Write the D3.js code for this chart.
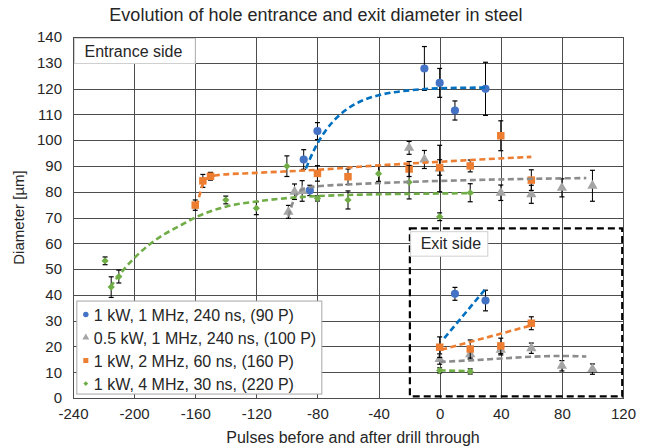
<!DOCTYPE html>
<html>
<head>
<meta charset="utf-8">
<script src="https://cdn.jsdelivr.net/npm/d3@7"></script>
<style>
  body { margin: 0; background: #fff; }
  text { font-family: "Liberation Sans", Arial, sans-serif; fill: #262626; }
</style>
</head>
<body>
<div id="svg-area"></div>
<script>
// chart data
var seriesNames = ["1 kW, 1 MHz, 240 ns, (90 P)", "0.5 kW, 1 MHz, 240 ns, (100 P)",
                   "1 kW, 2 MHz, 60 ns, (160 P)", "1 kW, 4 MHz, 30 ns, (220 P)"];
var xTicks = [-240, -200, -160, -120, -80, -40, 0, 40, 80, 120];
var yTicks = [0, 10, 20, 30, 40, 50, 60, 70, 80, 90, 100, 110, 120, 130, 140];

// entrance side measurements
var blueX = [-89, -85, -80, -10, 0, 10, 30];
var blueY = [92.5, 80.5, 103.5, 127.8, 122.2, 111.5, 119.9];
var blueErr = [3.8, 2, 3.3, 8.5, 5.6, 3.7, 10.3];

var grayX = [-99, -95, -90, -20, -10, 0, 40, 60, 80, 100];
var grayY = [72.2, 80, 80.3, 97, 92.5, 89, 79.6, 79, 81.5, 82.3];
var grayErr = [2.5, 3, 4, 2.5, 3.5, 9, 3, 3.5, 3.5, 6];

var orangeX = [-160, -155, -150, -80, -60, -20, 0, 20, 40, 60];
var orangeY = [74.8, 84.2, 86, 87.1, 85.8, 88.8, 89.4, 90, 101.7, 84.5];
var orangeErr = [2, 2.5, 1.5, 3, 3, 2.9, 3, 2.3, 5.8, 4];

var greenX = [-219, -215, -210, -140, -120, -100, -80, -60, -40, -20, 0, 20];
var greenY = [53.2, 43, 47.1, 76.8, 73.6, 89.9, 77.4, 76.8, 87, 83.7, 70.3, 79.6];
var greenErr = [1.5, 4, 2.5, 1.5, 2.5, 4, 1, 3.5, 3, 6.5, 1.5, 3.5];

// exit side measurements
var blueExitX = [10, 30];
var blueExitY = [40.4, 37.8];
var blueExitErr = [2.5, 4];
var grayExitX = [0, 20, 40, 60, 80, 100];
var grayExitY = [15.1, 17, 18.7, 19.3, 12.5, 11.2];
var grayExitErr = [2, 2, 2, 2, 2, 2];
var orangeExitX = [0, 20, 40, 60];
var orangeExitY = [19.7, 19, 20.2, 29];
var orangeExitErr = [4, 3.5, 3, 2.5];
var greenExitX = [0, 20];
var greenExitY = [10.7, 10.3];
var greenExitErr = [1, 1];

// trend lines
var blueTrendX = [-87.5, -85, -80, -75, -70, -65, -60, -50, -40, -20, 0, 30];
var blueTrendY = [89, 92.6, 98.7, 103.4, 107.1, 110, 112.3, 115.5, 117.4, 119.3, 120.1, 120.4];
var grayTrendX = [-99, -96, -93, -90, -85, -80, -60, -20, 20, 60, 96];
var grayTrendY = [70.3, 76, 79.5, 80.8, 81.7, 82.1, 82.8, 83.8, 84.5, 85, 85.3];
var orangeTrendX = [-159, -157, -155, -152, -146, -120, -80, -40, 0, 30, 60];
var orangeTrendY = [74.2, 79, 83, 85.3, 86.4, 87.3, 88.5, 90.2, 91.6, 92.6, 93.5];
var greenTrendX = [-215.6, -210, -200, -190, -180, -170, -160, -140, -120, -100, -80, -40, 0, 22];
var greenTrendY = [43, 47.5, 54.2, 59.5, 63.6, 66.8, 70, 74.2, 76.2, 77.5, 78.3, 79, 79.3, 79.5];

var blueExitTrendX = [3, 31];
var blueExitTrendY = [23.2, 43];
var grayExitTrendX = [0, 20, 40, 60, 80, 96];
var grayExitTrendY = [14, 14.6, 15.3, 16, 16.3, 16.1];
var orangeExitTrendX = [1, 59];
var orangeExitTrendY = [18.7, 28];
var greenExitTrendX = [0, 20];
var greenExitTrendY = [10.7, 10.4];

var svgWidth = 648;
var svgHeight = 448;
var margin = { top: 37, right: 25, bottom: 50, left: 73 };
var width = svgWidth - margin.left - margin.right;
var height = svgHeight - margin.top - margin.bottom;

var svg = d3.select("#svg-area").append("svg")
  .attr("width", svgWidth)
  .attr("height", svgHeight);

var chartGroup = svg.append("g")
  .attr("transform", `translate(${margin.left}, ${margin.top})`);

var x = d3.scaleLinear().domain([-240, 120]).range([0, width]);
var y = d3.scaleLinear().domain([0, 140]).range([height, 0]);

// grid
var gridColor = "#4d4d4d";
chartGroup.append("g").selectAll("line").data(yTicks).enter().append("line")
  .attr("x1", 0).attr("x2", width)
  .attr("y1", d => Math.round(y(d)) + 0.5).attr("y2", d => Math.round(y(d)) + 0.5)
  .attr("stroke", gridColor).attr("stroke-width", 1);
chartGroup.append("g").selectAll("line").data(xTicks).enter().append("line")
  .attr("y1", 0).attr("y2", height)
  .attr("x1", d => Math.round(x(d)) + 0.5).attr("x2", d => Math.round(x(d)) + 0.5)
  .attr("stroke", gridColor).attr("stroke-width", 1);

// axes (labels only)
var bottomAxis = d3.axisBottom(x).tickValues(xTicks).tickSize(0).tickPadding(10)
  .tickFormat(d => String(d));
var leftAxis = d3.axisLeft(y).tickValues(yTicks).tickSize(0).tickPadding(11)
  .tickFormat(d => String(d));
var gx = chartGroup.append("g").attr("transform", `translate(0, ${height})`).call(bottomAxis);
var gy = chartGroup.append("g").call(leftAxis);
[gx, gy].forEach(function(g) {
  g.select(".domain").remove();
  g.selectAll("text").style("font-size", "15px")
    .style("font-family", "'Liberation Sans', Arial, sans-serif").attr("fill", "#262626");
});

// exit side box
chartGroup.append("rect")
  .attr("x", x(-19.5)).attr("y", y(65.8))
  .attr("width", x(119.5) - x(-19.5)).attr("height", y(0.6) - y(65.8))
  .attr("fill", "none").attr("stroke", "#000").attr("stroke-width", 2.2)
  .attr("stroke-dasharray", "7,4");

var colors = { blue: "#4472C4", gray: "#A5A5A5", orange: "#ED7D31", green: "#70AD47" };
var trendColors = { blue: "#0070C0", gray: "#8C8C8C", orange: "#ED7D31", green: "#70AD47" };

function zip(xs, ys, es) {
  return xs.map((v, i) => ({ x: v, y: ys[i], e: es ? es[i] : 0 }));
}

var series = [
  { key: "blue", shape: d3.symbolCircle, size: 52, pts: zip(blueX, blueY, blueErr).concat(zip(blueExitX, blueExitY, blueExitErr)) },
  { key: "gray", shape: d3.symbolTriangle, size: 46, pts: zip(grayX, grayY, grayErr).concat(zip(grayExitX, grayExitY, grayExitErr)) },
  { key: "orange", shape: d3.symbolSquare, size: 56, pts: zip(orangeX, orangeY, orangeErr).concat(zip(orangeExitX, orangeExitY, orangeExitErr)) },
  { key: "green", shape: d3.symbolSquare, size: 26, rot: 45, pts: zip(greenX, greenY, greenErr).concat(zip(greenExitX, greenExitY, greenExitErr)) }
];

var trends = [
  { key: "blue", lines: [zip(blueTrendX, blueTrendY), zip(blueExitTrendX, blueExitTrendY)] },
  { key: "gray", lines: [zip(grayTrendX, grayTrendY), zip(grayExitTrendX, grayExitTrendY)] },
  { key: "orange", lines: [zip(orangeTrendX, orangeTrendY), zip(orangeExitTrendX, orangeExitTrendY)] },
  { key: "green", lines: [zip(greenTrendX, greenTrendY), zip(greenExitTrendX, greenExitTrendY)] }
];

// error bars and markers
series.forEach(function(s) {
  var g = chartGroup.append("g");
  var eb = g.selectAll(".eb").data(s.pts).enter().append("g");
  eb.append("line")
    .attr("x1", d => x(d.x)).attr("x2", d => x(d.x))
    .attr("y1", d => y(d.y - d.e)).attr("y2", d => y(d.y + d.e))
    .attr("stroke", "#000").attr("stroke-width", 1);
  [-1, 1].forEach(function(sg) {
    eb.append("line")
      .attr("x1", d => x(d.x) - 2.5).attr("x2", d => x(d.x) + 2.5)
      .attr("y1", d => y(d.y + sg * d.e)).attr("y2", d => y(d.y + sg * d.e))
      .attr("stroke", "#000").attr("stroke-width", 1.2);
  });
  g.selectAll("path").data(s.pts).enter().append("path")
    .attr("d", d3.symbol().type(s.shape).size(s.size))
    .attr("transform", d => `translate(${x(d.x)}, ${y(d.y)}) rotate(${s.rot || 0})`)
    .attr("fill", colors[s.key]);
});

// trend lines
var line = d3.line().x(d => x(d.x)).y(d => y(d.y)).curve(d3.curveMonotoneX);
trends.forEach(function(t) {
  t.lines.forEach(function(pts) {
    chartGroup.append("path").datum(pts)
      .attr("d", line)
      .attr("fill", "none")
      .attr("stroke", trendColors[t.key])
      .attr("stroke-width", 2.6)
      .attr("stroke-dasharray", "6,3.5");
  });
});

// border
chartGroup.append("rect")
  .attr("x", 0.5).attr("y", 0.5)
  .attr("width", width).attr("height", height)
  .attr("fill", "none").attr("stroke", gridColor).attr("stroke-width", 1);

// labels in the plot
function labelBox(px, py, w, h, txt) {
  chartGroup.append("rect")
    .attr("x", px).attr("y", py).attr("width", w).attr("height", h)
    .attr("fill", "#fff").attr("stroke", "#d0d0d0").attr("stroke-width", 1);
  chartGroup.append("text")
    .attr("x", px + 10).attr("y", py + h / 2 + 5.5)
    .style("font-size", "16px").text(txt);
}
labelBox(x(-240) + 1.5, y(140) + 1.5, x(-160) - x(-240) - 1.5, y(130.3) - y(140), "Entrance side");
labelBox(x(-19), y(64.5), x(31.5) - x(-19), y(55) - y(64.5), "Exit side");

// legend
var legend = chartGroup.append("g").attr("transform", `translate(${x(-237.5)}, ${y(37.6)})`);
legend.append("rect")
  .attr("width", 245).attr("height", 93)
  .attr("fill", "#fff").attr("stroke", "#a6a6a6").attr("stroke-width", 1);
series.forEach(function(s, i) {
  var row = legend.append("g").attr("transform", `translate(9, ${13.5 + i * 23})`);
  row.append("path")
    .attr("d", d3.symbol().type(s.shape).size(s.size * 0.45))
    .attr("transform", `rotate(${s.rot || 0})`)
    .attr("fill", colors[s.key]);
  row.append("text").attr("x", 8).attr("y", 6)
    .style("font-size", "16px").text(seriesNames[i]);
});

// titles
svg.append("text")
  .attr("x", 316).attr("y", 21)
  .attr("text-anchor", "middle")
  .style("font-size", "18px")
  .text("Evolution of hole entrance and exit diameter in steel");

svg.append("text")
  .attr("transform", "rotate(-90)")
  .attr("x", -(margin.top + height / 2)).attr("y", 24)
  .attr("text-anchor", "middle")
  .style("font-size", "15px")
  .text("Diameter [µm]");

svg.append("text")
  .attr("x", margin.left + width / 2 + 5).attr("y", 443)
  .attr("text-anchor", "middle")
  .style("font-size", "16px")
  .text("Pulses before and after drill through");
</script>
</body>
</html>
